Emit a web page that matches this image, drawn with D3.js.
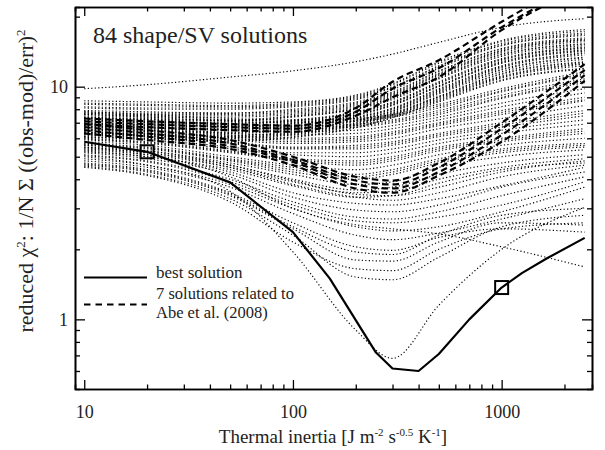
<!DOCTYPE html>
<html>
<head>
<meta charset="utf-8">
<script src="https://cdn.jsdelivr.net/npm/d3@7"></script>
<style>
  body { margin: 0; background: #fff; }
  svg text { font-family: "Liberation Serif", "Times New Roman", serif; fill: #222; }
</style>
</head>
<body>
<svg id="chart" width="605" height="450"></svg>
<script>
// thermal inertia grid used by the dotted / dashed solutions
var thermalInertia = [10, 20, 50, 100, 200, 300, 500, 1000, 2500];

// dotted solutions, upper band (rise strongly at high inertia)
var upperBand = [
  [8.7, 8.6, 8.5, 8.6, 9.2, 10.3, 12.8, 15.8, 17.6],
  [8.5, 8.4, 8.3, 8.5, 9.1, 10.2, 12.6, 15.6, 17.3],
  [8.4, 8.3, 8.2, 8.4, 9.0, 10.0, 12.3, 15.3, 17.0],
  [8.2, 8.1, 8.1, 8.3, 8.9, 9.9, 12.2, 15.1, 16.8],
  [8.1, 8.0, 8.0, 8.2, 8.8, 9.7, 12.0, 15.0, 16.6],
  [7.9, 7.8, 7.7, 8.0, 8.6, 9.5, 11.7, 14.6, 16.2],
  [7.8, 7.7, 7.7, 7.9, 8.5, 9.4, 11.6, 14.5, 16.0],
  [7.7, 7.6, 7.6, 7.8, 8.4, 9.3, 11.4, 14.3, 15.9],
  [7.6, 7.5, 7.5, 7.7, 8.3, 9.2, 11.3, 14.2, 15.8],
  [7.5, 7.4, 7.4, 7.6, 8.2, 9.1, 11.2, 14.0, 15.6],
  [7.4, 7.3, 7.2, 7.5, 8.1, 9.0, 11.0, 13.8, 15.3],
  [7.35, 7.25, 7.15, 7.45, 8.05, 8.9, 10.9, 13.7, 15.2],
  [7.3, 7.2, 7.1, 7.4, 8.0, 8.8, 10.8, 13.5, 15.0],
  [7.2, 7.1, 7.0, 7.2, 7.8, 8.6, 10.5, 13.2, 14.8],
  [7.15, 7.05, 6.95, 7.15, 7.75, 8.55, 10.4, 13.1, 14.7],
  [7.1, 7.0, 6.9, 7.1, 7.7, 8.5, 10.3, 13.0, 14.6],
  [7.0, 6.9, 6.8, 7.0, 7.6, 8.4, 10.1, 12.8, 14.4],
  [6.95, 6.85, 6.75, 6.95, 7.55, 8.35, 10.05, 12.7, 14.3],
  [6.9, 6.8, 6.7, 6.9, 7.5, 8.3, 10.0, 12.6, 14.2],
  [6.8, 6.7, 6.6, 6.8, 7.4, 8.1, 9.8, 12.3, 14.0],
  [6.75, 6.65, 6.55, 6.75, 7.35, 8.05, 9.7, 12.2, 13.9],
  [6.7, 6.6, 6.5, 6.7, 7.3, 8.0, 9.6, 12.1, 13.7],
  [6.6, 6.5, 6.4, 6.6, 7.2, 7.9, 9.5, 11.9, 13.4],
  [6.55, 6.45, 6.35, 6.55, 7.15, 7.85, 9.4, 11.8, 13.3],
  [6.5, 6.4, 6.3, 6.5, 7.1, 7.8, 9.3, 11.6, 13.1],
  [6.4, 6.3, 6.2, 6.4, 7.0, 7.7, 9.1, 11.4, 12.8],
  [6.35, 6.25, 6.15, 6.35, 6.95, 7.65, 9.05, 11.3, 12.7],
  [6.3, 6.2, 6.1, 6.3, 6.9, 7.6, 9.0, 11.1, 12.6],
  [6.25, 6.15, 6.05, 6.25, 6.85, 7.55, 8.9, 11.0, 12.5],
  [6.2, 6.1, 6.0, 6.2, 6.8, 7.5, 8.8, 10.9, 12.3],
  [6.1, 6.0, 5.9, 6.1, 6.7, 7.4, 8.7, 10.7, 12.0],
  [6.05, 5.95, 5.85, 6.05, 6.65, 7.35, 8.6, 10.6, 11.9]
];

// dotted solutions, middle band
var middleBand = [
  [7.8, 7.6, 7.3, 7.2, 7.3, 7.6, 8.4, 9.8, 11.6],
  [7.7, 7.5, 7.2, 7.1, 7.2, 7.5, 8.25, 9.6, 11.4],
  [7.6, 7.4, 7.1, 7.0, 7.1, 7.4, 8.1, 9.5, 11.2],
  [7.4, 7.2, 6.9, 6.8, 6.9, 7.2, 7.9, 9.2, 10.8],
  [7.3, 7.1, 6.8, 6.7, 6.8, 7.1, 7.75, 9.0, 10.6],
  [7.2, 7.0, 6.7, 6.6, 6.7, 7.0, 7.6, 8.9, 10.4],
  [7.0, 6.8, 6.5, 6.4, 6.5, 6.8, 7.4, 8.5, 9.8],
  [6.9, 6.7, 6.3, 6.2, 6.3, 6.6, 7.2, 8.2, 9.4],
  [6.8, 6.6, 6.2, 6.0, 6.1, 6.4, 7.0, 7.9, 9.0],
  [6.7, 6.5, 6.1, 5.9, 6.0, 6.3, 6.9, 7.75, 8.8],
  [6.6, 6.4, 6.0, 5.8, 5.9, 6.2, 6.8, 7.6, 8.7],
  [6.5, 6.3, 5.9, 5.7, 5.8, 6.0, 6.6, 7.3, 8.3],
  [6.4, 6.2, 5.8, 5.5, 5.6, 5.8, 6.3, 7.0, 7.9],
  [6.35, 6.15, 5.75, 5.45, 5.5, 5.7, 6.2, 6.85, 7.7],
  [6.3, 6.1, 5.7, 5.4, 5.4, 5.6, 6.1, 6.7, 7.5],
  [6.2, 6.0, 5.5, 5.2, 5.2, 5.4, 5.9, 6.5, 7.2],
  [6.1, 5.9, 5.4, 5.1, 5.0, 5.2, 5.7, 6.3, 6.9],
  [6.0, 5.8, 5.3, 4.9, 4.8, 5.0, 5.5, 6.0, 6.6],
  [5.95, 5.75, 5.25, 4.85, 4.7, 4.9, 5.4, 5.9, 6.45],
  [5.9, 5.7, 5.2, 4.8, 4.6, 4.8, 5.3, 5.8, 6.3],
  [5.8, 5.6, 5.0, 4.6, 4.4, 4.6, 5.1, 5.6, 6.0],
  [5.7, 5.5, 4.9, 4.5, 4.2, 4.4, 4.9, 5.4, 5.7],
  [5.65, 5.45, 4.85, 4.4, 4.1, 4.3, 4.8, 5.3, 5.6],
  [5.6, 5.4, 4.8, 4.3, 4.0, 4.2, 4.7, 5.2, 5.5],
  [5.5, 5.3, 4.7, 4.2, 3.8, 3.9, 4.5, 5.0, 5.35],
  [5.45, 5.2, 4.6, 4.0, 3.6, 3.7, 4.2, 4.7, 5.1],
  [5.35, 5.1, 4.5, 3.9, 3.5, 3.55, 4.0, 4.5, 4.9],
  [5.25, 5.0, 4.4, 3.75, 3.35, 3.4, 3.85, 4.4, 4.7]
];

// dotted solutions, lower band (dip at intermediate inertia)
var lowerBand = [
  [5.0, 4.6, 3.55, 1.95, 0.9, 0.68, 1.15, 2.0, 3.03],
  [5.4, 5.1, 4.1, 3.0, 2.55, 2.45, 2.33, 2.05, 1.68],
  [4.7, 4.4, 3.5, 2.6, 2.05, 1.98, 2.25, 2.45, 2.37],
  [4.6, 4.3, 3.4, 2.45, 1.8, 1.78, 2.15, 2.6, 2.54],
  [4.55, 4.2, 3.3, 2.3, 1.52, 1.48, 1.85, 2.5, 2.8],
  [4.9, 4.6, 3.8, 3.0, 2.5, 2.4, 2.5, 2.9, 3.7],
  [5.1, 4.8, 4.0, 3.2, 2.75, 2.7, 2.9, 3.4, 4.1],
  [5.2, 4.9, 4.2, 3.35, 2.95, 2.9, 3.1, 3.7, 4.3],
  [5.3, 5.0, 4.3, 3.5, 3.15, 3.1, 3.3, 3.75, 4.5],
  [5.5, 5.2, 4.5, 3.8, 3.35, 3.25, 3.5, 4.1, 4.6],
  [5.6, 5.3, 4.6, 3.95, 3.45, 3.4, 3.7, 4.3, 4.8],
  [4.8, 4.5, 3.7, 2.85, 2.3, 2.2, 2.35, 2.7, 3.3],
  [4.65, 4.35, 3.45, 2.5, 1.95, 1.9, 2.3, 2.8, 3.0],
  [5.05, 4.75, 3.9, 3.1, 2.65, 2.6, 2.75, 3.1, 3.9],
  [4.5, 4.15, 3.2, 2.15, 1.65, 1.62, 2.0, 2.45, 2.6]
];

// the one dotted solution above all others
var outlierCurve = [9.8, 10.2, 11.0, 11.7, 12.8, 13.8, 15.5, 18.0, 19.6];

// 7 solutions related to Abe et al. (2008)
var abeCurves = [
  [7.3, 7.1, 6.9, 6.8, 8.1, 10.5, 13.0, 19.0, 30.0],
  [7.1, 6.9, 6.7, 6.6, 7.8, 9.8, 12.0, 18.0, 28.0],
  [6.9, 6.7, 6.5, 6.4, 7.5, 9.0, 11.0, 17.5, 27.0],
  [6.9, 6.5, 5.9, 5.0, 4.1, 3.95, 4.7, 7.0, 12.5],
  [6.7, 6.3, 5.7, 4.85, 3.95, 3.8, 4.5, 6.6, 11.8],
  [6.5, 6.1, 5.55, 4.75, 3.8, 3.65, 4.3, 6.2, 11.2],
  [6.3, 5.9, 5.4, 4.6, 3.65, 3.5, 4.15, 5.8, 10.6]
];

// best solution
var bestTI = [10, 20, 50, 100, 150, 250, 300, 400, 500, 700, 1000, 1250, 1650, 2500];
var bestChi2 = [5.8, 5.25, 3.88, 2.37, 1.5, 0.72, 0.615, 0.6, 0.71, 1.0, 1.37, 1.58, 1.83, 2.24];
var markedIndex = [1, 10];

// axis ticks
var xMajor = [10, 100, 1000];
var xMinor = [20, 30, 40, 50, 60, 70, 80, 90, 200, 300, 400, 500, 600, 700, 800, 900, 2000];
var yMajor = [1, 10];
var yMinor = [0.6, 0.7, 0.8, 0.9, 2, 3, 4, 5, 6, 7, 8, 9, 20];

var plotLeft = 75, plotRight = 592, plotTop = 7, plotBottom = 389;

var svg = d3.select("#chart");

var x = d3.scaleLog().domain([9.03, 2710]).range([plotLeft, plotRight]);
var y = d3.scaleLog().domain([0.502, 22]).range([plotBottom, plotTop]);

svg.append("clipPath").attr("id", "plot-clip")
  .append("rect")
    .attr("x", plotLeft).attr("y", plotTop)
    .attr("width", plotRight - plotLeft).attr("height", plotBottom - plotTop);

var plot = svg.append("g").attr("clip-path", "url(#plot-clip)");

var smooth = d3.line()
  .x(function(d) { return x(d[0]); })
  .y(function(d) { return y(d[1]); })
  .curve(d3.curveMonotoneX);

function pairs(xs, ys) {
  return xs.map(function(v, i) { return [v, ys[i]]; });
}

var dotted = upperBand.concat(middleBand, lowerBand, [outlierCurve]);

plot.selectAll(".dotted")
  .data(dotted)
  .enter().append("path")
    .attr("class", "dotted")
    .attr("d", function(d) { return smooth(pairs(thermalInertia, d)); })
    .attr("fill", "none")
    .attr("stroke", "#000")
    .attr("stroke-width", 1.15)
    .attr("stroke-dasharray", "1.2,2.3");

plot.selectAll(".abe")
  .data(abeCurves)
  .enter().append("path")
    .attr("class", "abe")
    .attr("d", function(d) { return smooth(pairs(thermalInertia, d)); })
    .attr("fill", "none")
    .attr("stroke", "#000")
    .attr("stroke-width", 2.2)
    .attr("stroke-dasharray", "6.5,4");

var straight = d3.line()
  .x(function(d) { return x(d[0]); })
  .y(function(d) { return y(d[1]); });

plot.append("path")
  .attr("d", straight(pairs(bestTI, bestChi2)))
  .attr("fill", "none")
  .attr("stroke", "#000")
  .attr("stroke-width", 2.2)
  .attr("stroke-linejoin", "round");

plot.selectAll(".marker")
  .data(markedIndex)
  .enter().append("rect")
    .attr("class", "marker")
    .attr("x", function(i) { return x(bestTI[i]) - 6.5; })
    .attr("y", function(i) { return y(bestChi2[i]) - 6.5; })
    .attr("width", 13).attr("height", 13)
    .attr("fill", "none")
    .attr("stroke", "#000")
    .attr("stroke-width", 2);

// axes, ticks pointing inward on all four sides
function styleAxis(g) {
  g.selectAll("path.domain").attr("stroke", "#000").attr("stroke-width", 1.6);
  g.selectAll(".tick line").attr("stroke", "#000").attr("stroke-width", 1.3);
  g.selectAll("text")
    .style("font-family", "'Liberation Serif', 'Times New Roman', serif")
    .style("font-size", "18px")
    .attr("fill", "#222");
}

svg.append("g").attr("transform", "translate(0," + plotBottom + ")")
  .call(d3.axisBottom(x).tickValues(xMinor).tickSize(-4.5).tickFormat(""))
  .call(styleAxis);
svg.append("g").attr("transform", "translate(0," + plotBottom + ")")
  .call(d3.axisBottom(x).tickValues(xMajor).tickSize(-9).tickSizeOuter(0)
    .tickPadding(16).tickFormat(d3.format("d")))
  .call(styleAxis);
svg.append("g").attr("transform", "translate(0," + plotTop + ")")
  .call(d3.axisTop(x).tickValues(xMinor).tickSize(-4.5).tickFormat(""))
  .call(styleAxis);
svg.append("g").attr("transform", "translate(0," + plotTop + ")")
  .call(d3.axisTop(x).tickValues(xMajor).tickSize(-9).tickSizeOuter(0).tickFormat(""))
  .call(styleAxis);

svg.append("g").attr("transform", "translate(" + plotLeft + ",0)")
  .call(d3.axisLeft(y).tickValues(yMinor).tickSize(-5).tickFormat(""))
  .call(styleAxis);
svg.append("g").attr("transform", "translate(" + plotLeft + ",0)")
  .call(d3.axisLeft(y).tickValues(yMajor).tickSize(-10).tickSizeOuter(0)
    .tickPadding(7).tickFormat(d3.format("d")))
  .call(styleAxis);
svg.append("g").attr("transform", "translate(" + plotRight + ",0)")
  .call(d3.axisRight(y).tickValues(yMinor).tickSize(-5).tickFormat(""))
  .call(styleAxis);
svg.append("g").attr("transform", "translate(" + plotRight + ",0)")
  .call(d3.axisRight(y).tickValues(yMajor).tickSize(-10).tickSizeOuter(0).tickFormat(""))
  .call(styleAxis);

// title inside the plot
svg.append("text")
  .attr("x", 93).attr("y", 43)
  .style("font-size", "24px")
  .text("84 shape/SV solutions");

// x axis title
var xt = svg.append("text")
  .attr("x", 333).attr("y", 443)
  .attr("text-anchor", "middle")
  .style("font-size", "19px");
xt.append("tspan").text("Thermal inertia [J m");
xt.append("tspan").attr("dy", -7).style("font-size", "11px").text("-2");
xt.append("tspan").attr("dy", 7).text(" s");
xt.append("tspan").attr("dy", -7).style("font-size", "11px").text("-0.5");
xt.append("tspan").attr("dy", 7).text(" K");
xt.append("tspan").attr("dy", -7).style("font-size", "11px").text("-1");
xt.append("tspan").attr("dy", 7).text("]");

// y axis title
var yt = svg.append("text")
  .attr("transform", "translate(33,181) rotate(-90)")
  .attr("text-anchor", "middle")
  .style("font-size", "22px");
yt.append("tspan").text("reduced \u03c7");
yt.append("tspan").attr("dy", -8).style("font-size", "13px").text("2");
yt.append("tspan").attr("dy", 8).text(": 1/N \u03a3 ((obs-mod)/err)");
yt.append("tspan").attr("dy", -8).style("font-size", "13px").text("2");

// legend
var legend = svg.append("g");
legend.append("line")
  .attr("x1", 84).attr("x2", 147).attr("y1", 277.5).attr("y2", 277.5)
  .attr("stroke", "#000").attr("stroke-width", 2.2);
legend.append("text").attr("x", 156).attr("y", 278)
  .style("font-size", "17px").text("best solution");
legend.append("line")
  .attr("x1", 84).attr("x2", 147).attr("y1", 304.5).attr("y2", 304.5)
  .attr("stroke", "#000").attr("stroke-width", 2.2)
  .attr("stroke-dasharray", "6.5,5");
legend.append("text").attr("x", 156).attr("y", 299)
  .style("font-size", "16.5px").text("7 solutions related to");
legend.append("text").attr("x", 156).attr("y", 318)
  .style("font-size", "16.5px").text("Abe et al. (2008)");
</script>
</body>
</html>
